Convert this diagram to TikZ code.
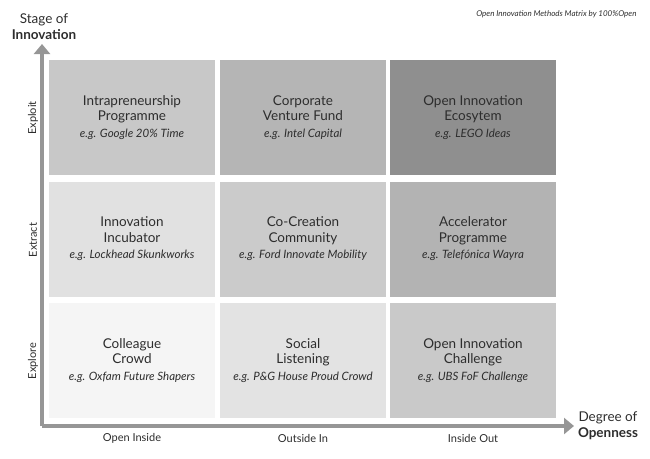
\documentclass[tikz,border=0pt]{standalone}
\usepackage{fontspec}
\setmainfont{Lato}
\usepackage{tikz}
\usetikzlibrary{arrows.meta,positioning}
\usepackage{xcolor}
\definecolor{oitext}{RGB}{45,45,45}
\definecolor{oiaxis}{RGB}{150,150,150}
\definecolor{oigreyA}{RGB}{200,200,200}
\definecolor{oigreyB}{RGB}{181,181,181}
\definecolor{oigreyC}{RGB}{143,143,143}
\definecolor{oigreyD}{RGB}{225,225,225}
\definecolor{oigreyE}{RGB}{203,203,203}
\definecolor{oigreyF}{RGB}{179,179,179}
\definecolor{oigreyG}{RGB}{245,245,245}
\definecolor{oigreyH}{RGB}{227,227,227}
\definecolor{oigreyI}{RGB}{201,201,201}
\newcommand{\oiex}{\fontsize{11.5}{14}\selectfont\itshape}
\tikzstyle{axis} = [line width=3.5pt, color=oiaxis, -{Triangle[width=16pt,length=10pt]}]
\tikzstyle{method} = [rectangle, minimum width=166pt, minimum height=115pt, align=center, text=oitext, font=\fontsize{13.5}{15.5}\selectfont]

\begin{document}
\begin{tikzpicture}[x=1pt, y=-1pt,
    axislabel/.style={text=oitext, font=\fontsize{11}{13}\selectfont},
    axistitle/.style={text=oitext, align=center, font=\fontsize{13.5}{16}\selectfont}]
\useasboundingbox (0,0) rectangle (650,458);

% Exploit row
\node[method, fill=oigreyA] (intra) at (132,117.5) {Intrapreneurship\\Programme\\[1pt]{\oiex e.g. Google 20\% Time}};
\node[method, fill=oigreyB] (cvf) at (303,117.5) {Corporate\\Venture Fund\\[1pt]{\oiex e.g. Intel Capital}};
\node[method, fill=oigreyC] (ecosys) at (473,117.5) {Open Innovation\\Ecosytem\\[1pt]{\oiex e.g. LEGO Ideas}};

% Extract row
\node[method, fill=oigreyD] (incub) at (132,239) {Innovation\\Incubator\\[1pt]{\oiex e.g. Lockhead Skunkworks}};
\node[method, fill=oigreyE] (cocreate) at (303,239) {Co-Creation\\Community\\[1pt]{\oiex e.g. Ford Innovate Mobility}};
\node[method, fill=oigreyF] (accel) at (473,239) {Accelerator\\Programme\\[1pt]{\oiex e.g. Telefónica Wayra}};

% Explore row
\node[method, fill=oigreyG] (crowd) at (132,360.5) {Colleague\\Crowd\\[1pt]{\oiex e.g. Oxfam Future Shapers}};
\node[method, fill=oigreyH] (social) at (303,360.5) {Social\\Listening\\[1pt]{\oiex e.g. P\&G House Proud Crowd}};
\node[method, fill=oigreyI] (challenge) at (473,360.5) {Open Innovation\\Challenge\\[1pt]{\oiex e.g. UBS FoF Challenge}};

% Axes
\coordinate (origin) at (42,426);
\coordinate (ytip) at (42,44);
\coordinate (xtip) at (574,426);
\draw[axis] (origin) -- (ytip);
\draw[axis] (origin) -- (xtip);

% Axis titles
\node[axistitle] (stage) at (44,27) {Stage of\\\textbf{Innovation}};
\node[axistitle] (degree) at (608,426) {Degree of\\\textbf{Openness}};

% Row labels
\node[axislabel, rotate=90] (exploit) at (33,118) {Exploit};
\node[axislabel, rotate=90] (extract) at (33,240) {Extract};
\node[axislabel, rotate=90] (explore) at (33,361) {Explore};

% Column labels
\node[axislabel] (inside) at (132,438) {Open Inside};
\node[axislabel] (outin) at (303,438) {Outside In};
\node[axislabel] (inout) at (473,438) {Inside Out};

% Credit
\node[anchor=east, text=oitext, font=\fontsize{8}{10}\selectfont\itshape] (credit) at (640,14) {Open Innovation Methods Matrix by 100\%Open};
\end{tikzpicture}
\end{document}
